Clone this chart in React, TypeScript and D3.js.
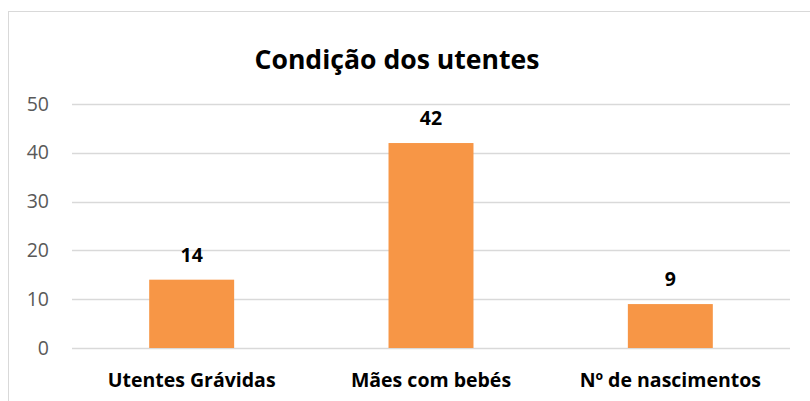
import React, { useEffect, useRef } from 'react';
import * as d3 from 'd3';

const categories = ['Utentes Grávidas', 'Mães com bebés', 'Nº de nascimentos'];
const values = [14, 42, 9];
const yTicks = [0, 10, 20, 30, 40, 50];
const title = 'Condição dos utentes';

const W = 810;
const H = 401;
const plot = { left: 72, right: 790, top: 104, bottom: 348 };
const font = "'Open Sans', Lato, sans-serif";

const App = () => {
  const ref = useRef<SVGSVGElement>(null);

  useEffect(() => {
    const svg = d3.select(ref.current);
    svg.selectAll('*').remove();

    // chart frame (cropped at right and bottom)
    svg.append('rect')
      .attr('x', 8.5).attr('y', 11.5)
      .attr('width', 900).attr('height', 500)
      .attr('fill', '#fff')
      .attr('stroke', '#d9d9d9');

    const x = d3.scaleBand<string>()
      .domain(categories)
      .range([plot.left, plot.right])
      .paddingInner(0.645)
      .paddingOuter(0.3225);

    const y = d3.scaleLinear()
      .domain([0, 50])
      .range([plot.bottom, plot.top]);

    // gridlines
    svg.append('g').selectAll('line')
      .data(yTicks)
      .enter().append('line')
      .attr('x1', plot.left).attr('x2', plot.right)
      .attr('y1', (d) => Math.round(y(d)) + 0.5)
      .attr('y2', (d) => Math.round(y(d)) + 0.5)
      .attr('stroke', '#d9d9d9')
      .attr('stroke-width', 1.5);

    // y tick labels
    svg.append('g').selectAll('text')
      .data(yTicks)
      .enter().append('text')
      .attr('x', 49)
      .attr('y', (d) => y(d) + 6.5)
      .attr('text-anchor', 'end')
      .attr('font-family', font)
      .attr('font-size', 19.5)
      .attr('fill', '#595959')
      .text((d) => d);

    // bars
    svg.append('g').selectAll('rect')
      .data(values)
      .enter().append('rect')
      .attr('x', (d, i) => x(categories[i]) as number)
      .attr('y', (d) => y(d))
      .attr('width', x.bandwidth())
      .attr('height', (d) => y(0) - y(d))
      .attr('fill', '#f79646');

    // value labels
    svg.append('g').selectAll('text')
      .data(values)
      .enter().append('text')
      .attr('x', (d, i) => (x(categories[i]) as number) + x.bandwidth() / 2)
      .attr('y', (d) => y(d) - 18)
      .attr('text-anchor', 'middle')
      .attr('font-family', font)
      .attr('font-weight', 'bold')
      .attr('font-size', 19.5)
      .attr('fill', '#000')
      .text((d) => d);

    // category labels
    svg.append('g').selectAll('text')
      .data(categories)
      .enter().append('text')
      .attr('x', (d) => (x(d) as number) + x.bandwidth() / 2)
      .attr('y', 387)
      .attr('text-anchor', 'middle')
      .attr('font-family', font)
      .attr('font-weight', 'bold')
      .attr('font-size', 19.5)
      .attr('fill', '#000')
      .text((d) => d);

    svg.append('text')
      .attr('x', 397)
      .attr('y', 69)
      .attr('text-anchor', 'middle')
      .attr('font-family', font)
      .attr('font-weight', 'bold')
      .attr('font-size', 26.6)
      .attr('fill', '#000')
      .text(title);
  }, []);

  return (
    <svg ref={ref} width={W} height={H} style={{ position: 'absolute', left: 0, top: 0, background: '#fff' }} />
  );
};

export default App;
